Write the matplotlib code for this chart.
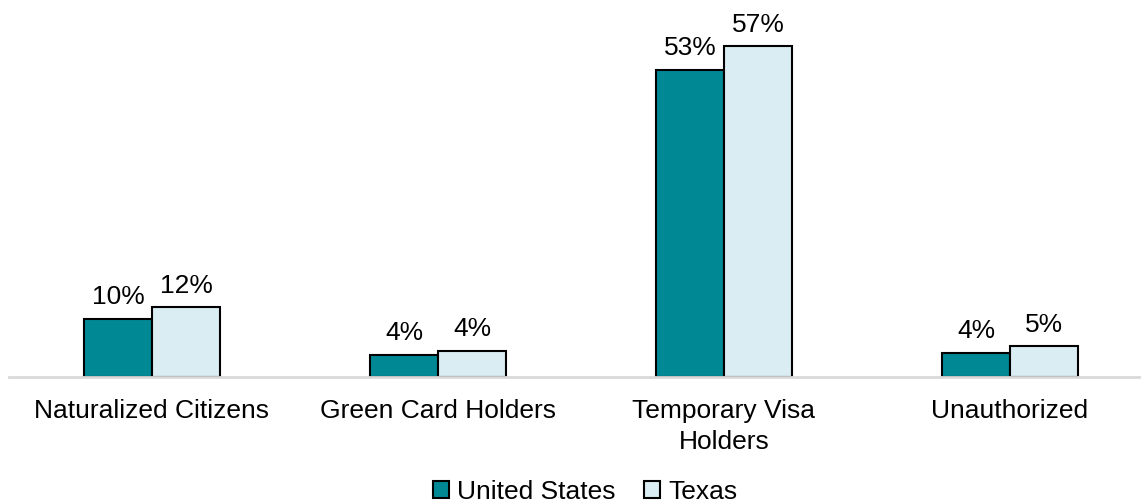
import numpy as np
import matplotlib
matplotlib.use("Agg")
import matplotlib.pyplot as plt

plt.rcParams["font.family"] = ["Liberation Sans", "DejaVu Sans"]

categories = ["Naturalized Citizens", "Green Card Holders", "Temporary Visa\nHolders", "Unauthorized"]
us_vals = [10.0, 3.8, 53.0, 4.1]
tx_vals = [12.0, 4.5, 57.0, 5.3]
us_labels = ["10%", "4%", "53%", "4%"]
tx_labels = ["12%", "4%", "57%", "5%"]

US_COLOR = "#008995"
TX_COLOR = "#DAEDF3"
FS = 19

W, H = 1141, 504
fig = plt.figure(figsize=(W / 100, H / 100), dpi=100)
ax = fig.add_axes([9 / W, 1 - 377 / H, 1144 / W, 377 / H])

x = np.arange(len(categories))
bw = 0.238
b1 = ax.bar(x - bw / 2, us_vals, bw, color=US_COLOR, edgecolor="black", linewidth=1.5, label="United States")
b2 = ax.bar(x + bw / 2, tx_vals, bw, color=TX_COLOR, edgecolor="black", linewidth=1.5, label="Texas")

for bars, labs in ((b1, us_labels), (b2, tx_labels)):
    for rect, lab in zip(bars, labs):
        ax.annotate(lab, (rect.get_x() + rect.get_width() / 2, rect.get_height()),
                    xytext=(0, 7), textcoords="offset points", ha="center", va="bottom", fontsize=FS)

ax.set_xlim(-0.5, 3.5)
ax.set_ylim(0, 65)
ax.set_xticks(x)
ax.set_xticklabels(categories, fontsize=FS, linespacing=1.35)
ax.tick_params(axis="x", length=0, pad=16)
ax.set_yticks([])
for s in ["top", "right", "left"]:
    ax.spines[s].set_visible(False)
ax.spines["bottom"].set_color("#d9d9d9")
ax.spines["bottom"].set_linewidth(2)

fig.legend(handles=[b1, b2], loc="center", bbox_to_anchor=(585 / W, 1 - 492 / H), ncol=2,
           frameon=False, fontsize=FS, handlelength=0.6, handleheight=0.6,
           handletextpad=0.3, columnspacing=1.1)

fig.savefig("out.png", dpi=100)
